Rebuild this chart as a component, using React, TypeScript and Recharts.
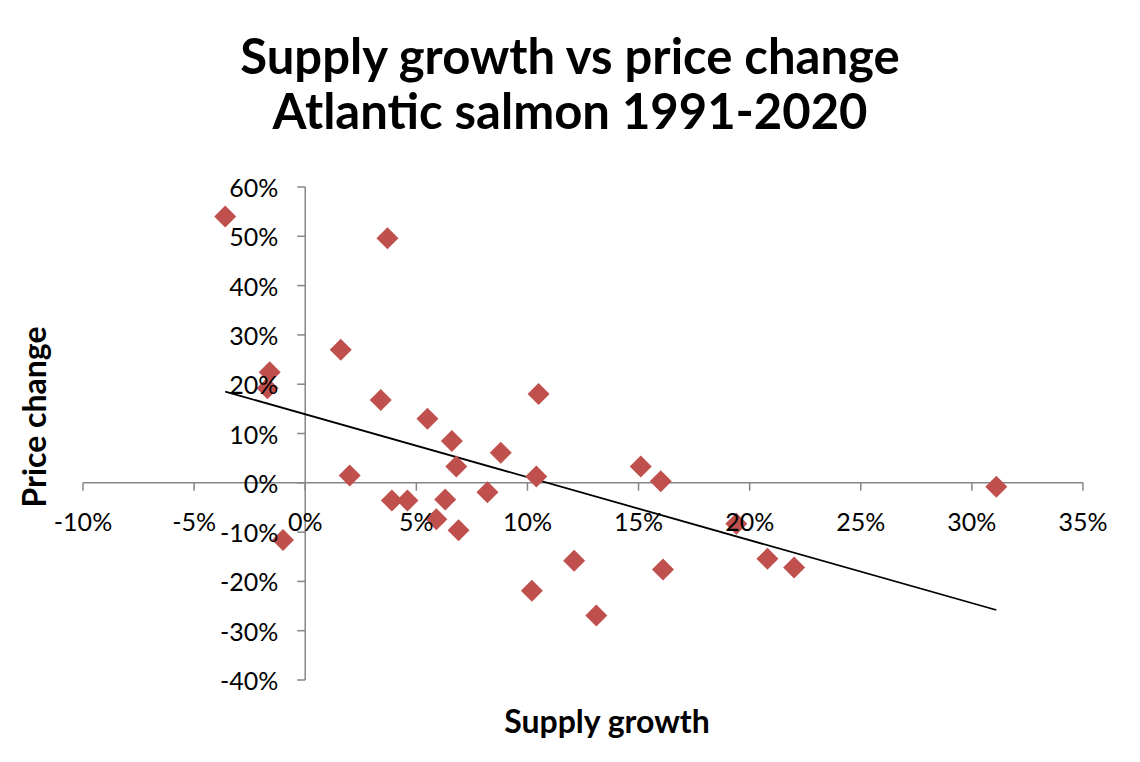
import { ScatterChart, Scatter, XAxis, YAxis, ReferenceLine } from "recharts";

// supply growth (%) and price change (%) per year, 1991-2020
const supplyGrowth = [
  -3.6, 3.7, 1.6, -1.6, -1.7, 3.4, 10.5, 5.5, 6.6, 8.8,
  6.8, 2.0, 10.4, 15.1, 16.0, 31.1, 3.9, 4.6, 6.3, 8.2,
  5.9, 6.9, -1.0, 19.4, 12.1, 20.8, 16.1, 22.0, 10.2, 13.1,
];
const priceChange = [
  54.0, 49.6, 27.0, 22.4, 19.2, 16.8, 18.0, 13.0, 8.5, 6.1,
  3.3, 1.5, 1.3, 3.3, 0.3, -0.8, -3.6, -3.6, -3.4, -1.9,
  -7.4, -9.6, -11.6, -8.3, -15.8, -15.4, -17.6, -17.2, -21.9, -26.9,
];

// linear trendline end points
const trendX = [-3.6, 31.1];
const trendY = [18.5, -25.8];

const xTicks = [-10, -5, 0, 5, 10, 15, 20, 25, 30, 35];
const yTicks = [-40, -30, -20, -10, 0, 10, 20, 30, 40, 50, 60];

const points = supplyGrowth.map((x, i) => ({ x, y: priceChange[i] }));
const trend = trendX.map((x, i) => ({ x, y: trendY[i] }));

const W = 1140;
const H = 762;
const PLOT = { left: 83, top: 187, right: 1083, bottom: 680 };
const X_MIN = -10;
const X_MAX = 35;
const Y_MIN = -40;
const Y_MAX = 60;

// pixel position of the zero lines (axes cross at 0, Excel style)
const X0 = PLOT.left + ((0 - X_MIN) / (X_MAX - X_MIN)) * (PLOT.right - PLOT.left);
const Y0 = PLOT.top + ((Y_MAX - 0) / (Y_MAX - Y_MIN)) * (PLOT.bottom - PLOT.top);

const AXIS = "#868686";
const RED = "#C0504D";
const FONT = "Lato, 'Open Sans', sans-serif";

function XTick(props: any) {
  const { x, payload } = props;
  return (
    <g>
      <line x1={x} x2={x} y1={Y0} y2={Y0 + 8} stroke={AXIS} strokeWidth={1.5} />
      <text
        x={x}
        y={Y0 + 38}
        textAnchor="middle"
        dominantBaseline="central"
        fontFamily={FONT}
        fontSize={25}
        fill="#000"
      >
        {payload.value}%
      </text>
    </g>
  );
}

function YTick(props: any) {
  const { y, payload } = props;
  return (
    <g>
      <line x1={X0 - 8} x2={X0} y1={y} y2={y} stroke={AXIS} strokeWidth={1.5} />
      <text
        x={X0 - 27}
        y={y}
        textAnchor="end"
        dominantBaseline="central"
        fontFamily={FONT}
        fontSize={25}
        fill="#000"
      >
        {payload.value}%
      </text>
    </g>
  );
}

function Diamond(props: any) {
  const { cx, cy } = props;
  const r = 11;
  return (
    <polygon
      points={`${cx},${cy - r} ${cx + r},${cy} ${cx},${cy + r} ${cx - r},${cy}`}
      fill={RED}
    />
  );
}

export default function App() {
  return (
    <div style={{ position: "absolute", left: 0, top: 0, width: W, height: H, background: "#fff" }}>
      <ScatterChart
        width={W}
        height={H}
        margin={{ top: PLOT.top, right: W - PLOT.right, left: PLOT.left - 60, bottom: H - PLOT.bottom - 30 }}
      >
        <XAxis
          type="number"
          dataKey="x"
          domain={[X_MIN, X_MAX]}
          ticks={xTicks}
          interval={0}
          axisLine={false}
          tickLine={false}
          tick={<XTick />}
          height={30}
          allowDataOverflow
        />
        <YAxis
          type="number"
          dataKey="y"
          domain={[Y_MIN, Y_MAX]}
          ticks={yTicks}
          interval={0}
          axisLine={false}
          tickLine={false}
          tick={<YTick />}
          width={60}
          allowDataOverflow
        />
        <ReferenceLine x={0} stroke={AXIS} strokeWidth={1.5} />
        <ReferenceLine y={0} stroke={AXIS} strokeWidth={1.5} />
        <Scatter data={points} shape={<Diamond />} isAnimationActive={false} />
        <ReferenceLine segment={trend} stroke="#000" strokeWidth={1.8} />
      </ScatterChart>
      <svg
        width={W}
        height={H}
        style={{ position: "absolute", left: 0, top: 0, pointerEvents: "none" }}
      >
        <g fontFamily={FONT} fontWeight="bold" fill="#000" textAnchor="middle">
          <text x={570} y={74} fontSize={49}>
            Supply growth vs price change
          </text>
          <text x={570} y={129} fontSize={49}>
            Atlantic salmon 1991-2020
          </text>
          <text x={607} y={733} fontSize={32}>
            Supply growth
          </text>
          <text x={46} y={417} fontSize={32} transform="rotate(-90 46 417)">
            Price change
          </text>
        </g>
      </svg>
    </div>
  );
}
